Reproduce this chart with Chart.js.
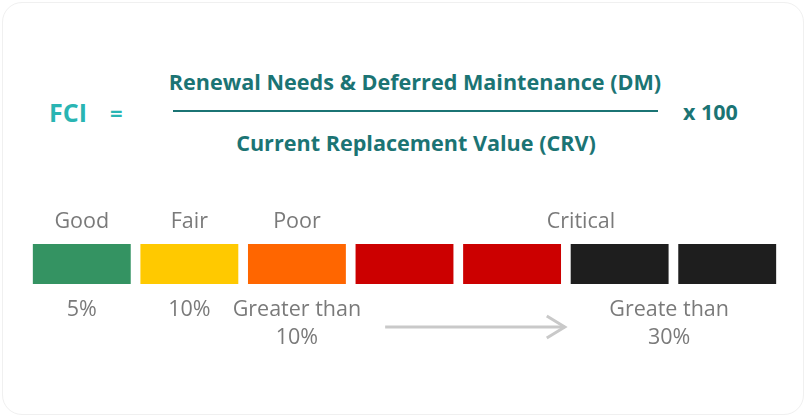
<!DOCTYPE html>
<html>
<head>
<meta charset="utf-8">
<script src="https://cdn.jsdelivr.net/npm/chart.js@4.4.1/dist/chart.umd.min.js"></script>
<style>
  html, body { margin: 0; padding: 0; background: #fff; }
  body { position: relative; width: 806px; height: 417px; overflow: hidden; font-family: 'Open Sans', sans-serif; }
  .card { position: absolute; left: 2px; top: 2px; width: 800px; height: 411px; border: 1px solid #f0f0f0; border-radius: 20px; background: #fff; }
  .f { position: absolute; line-height: 30px; height: 30px; white-space: nowrap; font-weight: 700; color: #1b7474; }
  .fci { left: 49px; top: 97px; font-size: 25px; color: #29b5b3; }
  .eq { left: 110px; top: 97px; font-size: 22px; color: #29b5b3; }
  .num { left: 165px; width: 500px; text-align: center; top: 67px; font-size: 21.6px; }
  .den { left: 166px; width: 500px; text-align: center; top: 128px; font-size: 21.6px; }
  .bar { position: absolute; left: 173px; top: 110px; width: 485px; height: 2px; background: #1b7474; }
  .times { left: 683px; top: 97px; font-size: 21.5px; }
  canvas { position: absolute; left: 0; top: 0; }
</style>
</head>
<body>
<div class="card"></div>
<div class="f fci">FCI</div>
<div class="f eq">=</div>
<div class="f num">Renewal Needs &amp; Deferred Maintenance (DM)</div>
<div class="bar"></div>
<div class="f den">Current Replacement Value (CRV)</div>
<div class="f times">x 100</div>
<canvas id="scale" width="806" height="417"></canvas>
<script>
// seven equal bands of the condition scale
const segmentLabels = ['Good', 'Fair', 'Poor', 'Critical 1', 'Critical 2', 'Critical 3', 'Critical 4'];
const segmentValues = [1, 1, 1, 1, 1, 1, 1];
const segmentColors = ['#349362', '#ffc900', '#ff6600', '#cc0000', '#cc0000', '#1e1e1e', '#1e1e1e'];

// rating names above the bands, thresholds below
const ratingNames = ['Good', 'Fair', 'Poor', 'Critical'];
const thresholdTexts = [['5%'], ['10%'], ['Greater than', '10%'], ['Greate than', '30%']];

// where the texts sit along the band axis (band index)
const ratingAt = [0, 1, 2, 4.64];
const thresholdAt = [0, 1, 2, 5.46];
const arrowFrom = 2.82, arrowTo = 4.49;

const labelPlugin = {
  id: 'fciLabels',
  afterDraw(chart) {
    const { ctx, scales: { x, y } } = chart;
    const top = y.getPixelForValue(1);
    const bottom = y.getPixelForValue(0);
    ctx.save();
    ctx.fillStyle = '#7a7a7a';
    ctx.font = '21.5px "Open Sans"';
    ctx.textAlign = 'center';
    ctx.textBaseline = 'middle';
    ratingNames.forEach((t, i) => ctx.fillText(t, x.getPixelForValue(ratingAt[i]), top - 22));
    thresholdTexts.forEach((lines, i) => {
      lines.forEach((t, j) => ctx.fillText(t, x.getPixelForValue(thresholdAt[i]), bottom + 26 + j * 28));
    });

    // arrow from Poor towards Critical
    const ay = bottom + 43;
    const x0 = x.getPixelForValue(arrowFrom);
    const x1 = x.getPixelForValue(arrowTo);
    ctx.strokeStyle = '#c9c9c9';
    ctx.lineWidth = 3;
    ctx.beginPath();
    ctx.moveTo(x0, ay);
    ctx.lineTo(x1, ay);
    ctx.stroke();
    ctx.beginPath();
    ctx.moveTo(x1 - 18, ay - 11);
    ctx.lineTo(x1, ay);
    ctx.lineTo(x1 - 18, ay + 11);
    ctx.stroke();
    ctx.restore();
  }
};

new Chart(document.getElementById('scale'), {
  type: 'bar',
  data: {
    labels: segmentLabels,
    datasets: [{
      data: segmentValues,
      backgroundColor: segmentColors,
      borderWidth: 0,
      barPercentage: 1,
      categoryPercentage: 0.91
    }]
  },
  options: {
    responsive: false,
    animation: false,
    devicePixelRatio: 1,
    layout: { padding: { left: 28, right: 25, top: 244, bottom: 133 } },
    plugins: { legend: { display: false }, tooltip: { enabled: false } },
    scales: {
      x: { display: false },
      y: { display: false, min: 0, max: 1 }
    }
  },
  plugins: [labelPlugin]
});
</script>
</body>
</html>
